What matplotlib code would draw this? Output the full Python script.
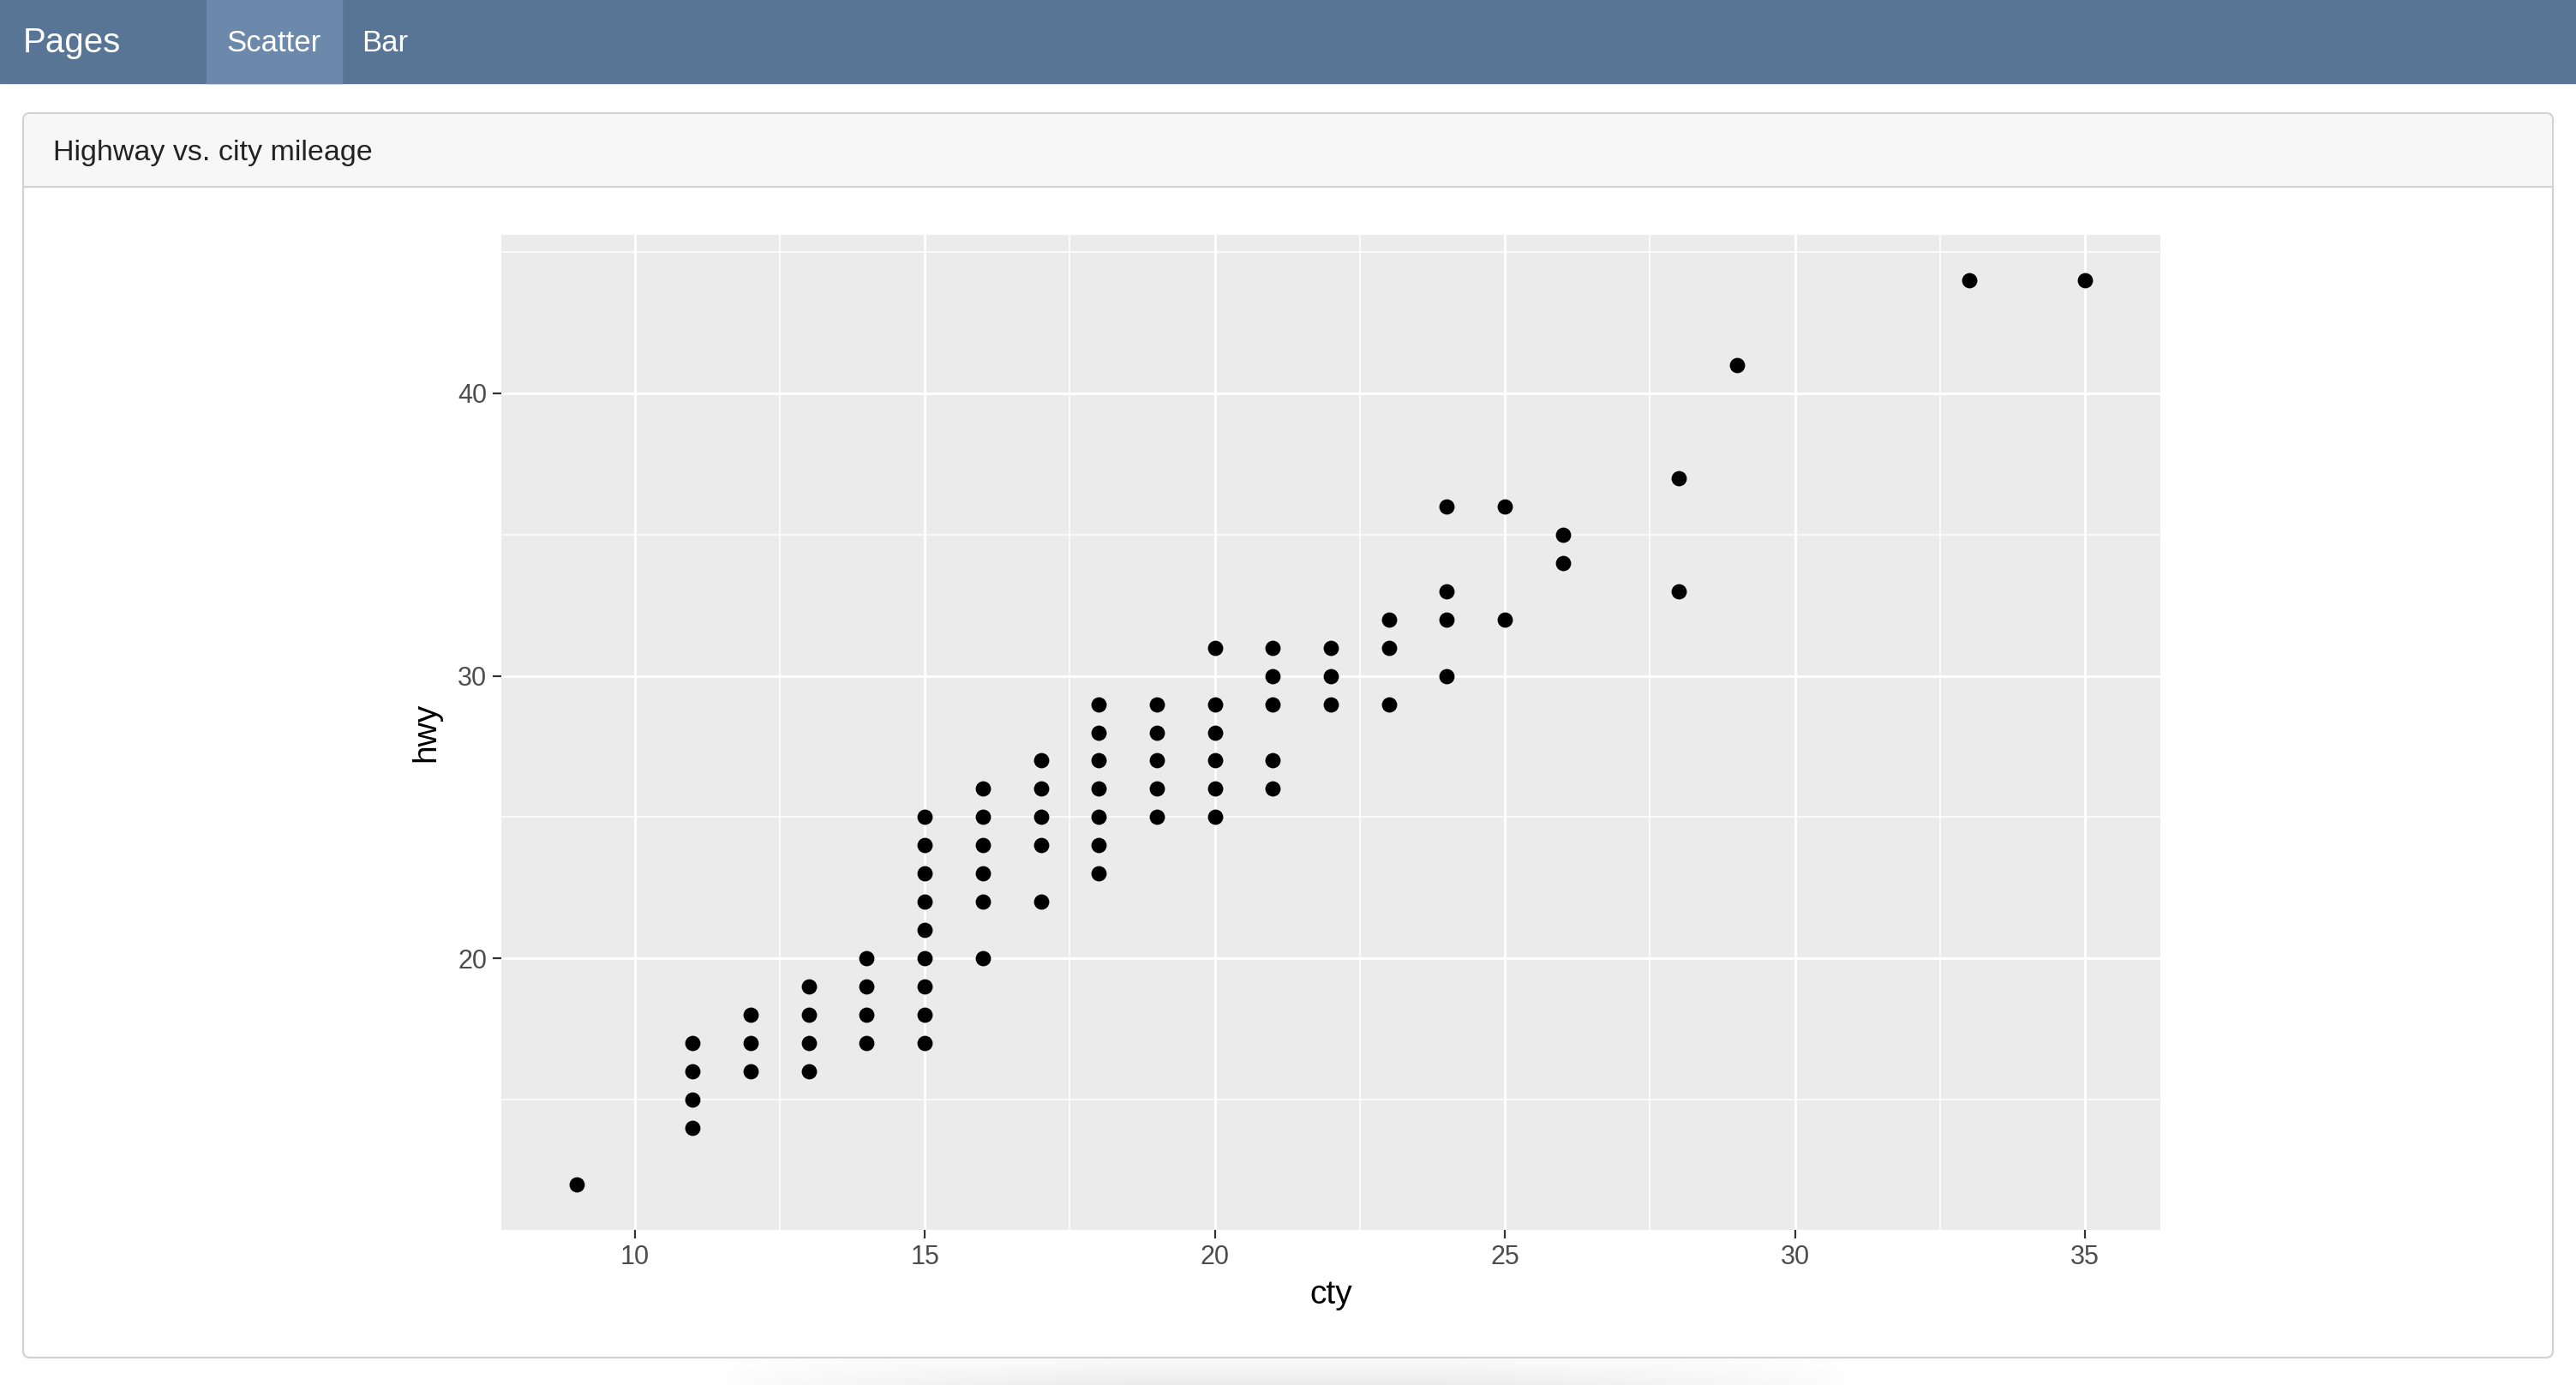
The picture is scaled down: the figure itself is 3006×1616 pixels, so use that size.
import numpy as np
import matplotlib.pyplot as plt
from matplotlib.patches import Rectangle, FancyBboxPatch

plt.rcParams['font.family'] = ['Liberation Sans', 'DejaVu Sans']

# cty / hwy pairs
cty = [9,
       11, 11, 11, 11,
       12, 12, 12,
       13, 13, 13, 13,
       14, 14, 14, 14,
       15, 15, 15, 15, 15, 15, 15, 15, 15,
       16, 16, 16, 16, 16, 16,
       17, 17, 17, 17, 17,
       18, 18, 18, 18, 18, 18, 18,
       19, 19, 19, 19, 19,
       20, 20, 20, 20, 20, 20,
       21, 21, 21, 21, 21,
       22, 22, 22,
       23, 23, 23,
       24, 24, 24, 24,
       25, 25,
       26, 26,
       28, 28,
       29, 33, 35]
hwy = [12,
       14, 15, 16, 17,
       16, 17, 18,
       16, 17, 18, 19,
       17, 18, 19, 20,
       17, 18, 19, 20, 21, 22, 23, 24, 25,
       20, 22, 23, 24, 25, 26,
       22, 24, 25, 26, 27,
       23, 24, 25, 26, 27, 28, 29,
       25, 26, 27, 28, 29,
       25, 26, 27, 28, 29, 31,
       26, 27, 29, 30, 31,
       29, 30, 31,
       29, 31, 32,
       30, 32, 33, 36,
       32, 36,
       34, 35,
       33, 37,
       41, 44, 44]

x_breaks = [10, 15, 20, 25, 30, 35]
x_minor = [12.5, 17.5, 22.5, 27.5, 32.5]
y_breaks = [20, 30, 40]
y_minor = [15, 25, 35, 45]

page_title = "Pages"
tabs = ["Scatter", "Bar"]
card_title = "Highway vs. city mileage"

W, H = 3006, 1616
fig = plt.figure(figsize=(W / 100, H / 100), dpi=100)
fig.patch.set_facecolor('white')

# page chrome drawn in pixel coords
bg = fig.add_axes([0, 0, 1, 1])
bg.set_xlim(0, W)
bg.set_ylim(H, 0)
bg.axis('off')

# soft shadow under the card
grad = np.linspace(0, 1, 40).reshape(-1, 1) * np.ones((1, 200))
xs = np.linspace(-1, 1, 200)
grad = grad * np.clip(1.4 - np.abs(xs) * 1.4, 0, 1)[None, :] ** 0.6
shade = np.ones((40, 200, 4))
shade[..., :3] = 0.88
shade[..., 3] = grad * 0.6
bg.imshow(shade, extent=(840, 2160, 1616, 1576), aspect='auto', zorder=0.5)

bg.add_patch(Rectangle((0, 0), W, 97, color='#587595', zorder=1))
bg.add_patch(Rectangle((241, 0), 158, 97, color='#6c89ab', zorder=1.1))
bg.text(27, 50, page_title, color='white', fontsize=29, va='center', ha='left', zorder=2)
bg.text(264, 50, tabs[0], color='white', fontsize=25, va='center', ha='left', zorder=2)
bg.text(422, 50, tabs[1], color='white', fontsize=25, va='center', ha='left', zorder=2)

card = FancyBboxPatch((27, 132), 2952, 1452, boxstyle='round,pad=0,rounding_size=8',
                      facecolor='white', edgecolor='#d2d2d2', linewidth=1.6, zorder=1)
bg.add_patch(card)
head = FancyBboxPatch((28, 133), 2950, 85, boxstyle='round,pad=0,rounding_size=7',
                      facecolor='#f7f7f7', edgecolor='none', zorder=1.2)
bg.add_patch(head)
bg.plot([28, 2978], [218, 218], color='#d2d2d2', lw=1.6, zorder=1.3)
bg.text(62, 178, card_title, color='#222222', fontsize=24.5, va='center', ha='left', zorder=2)

# ggplot-like panel
l, r, t, b = 585, 2521, 274, 1435
ax = fig.add_axes([l / W, (H - b) / H, (r - l) / W, (b - t) / H])
ax.set_facecolor('#ebebeb')
xr = max(cty) - min(cty)
yr = max(hwy) - min(hwy)
ax.set_xlim(min(cty) - 0.05 * xr, max(cty) + 0.05 * xr)
ax.set_ylim(min(hwy) - 0.05 * yr, max(hwy) + 0.05 * yr)
for v in x_minor:
    ax.axvline(v, color='white', lw=1.1, zorder=0.5)
for v in y_minor:
    ax.axhline(v, color='white', lw=1.1, zorder=0.5)
for v in x_breaks:
    ax.axvline(v, color='white', lw=2.1, zorder=0.6)
for v in y_breaks:
    ax.axhline(v, color='white', lw=2.1, zorder=0.6)
ax.scatter(cty, hwy, s=165, color='black', linewidths=0, zorder=3)
ax.set_xticks(x_breaks)
ax.set_yticks(y_breaks)
ax.tick_params(length=7, width=1.6, color='#333333', labelcolor='#4d4d4d',
               labelsize=22, pad=5)
for s in ax.spines.values():
    s.set_visible(False)
ax.set_xlabel('cty', fontsize=28, color='black', labelpad=8)
ax.set_ylabel('hwy', fontsize=28, color='black', labelpad=14)

fig.savefig('out.png', dpi=100, facecolor='white')
